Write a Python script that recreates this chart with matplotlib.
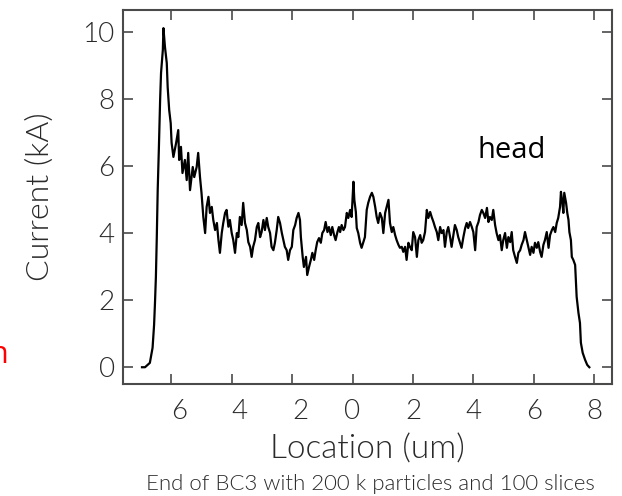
import numpy as np
import matplotlib
matplotlib.use("Agg")
import matplotlib.pyplot as plt
from matplotlib.transforms import ScaledTranslation

# current profile along the bunch (um, kA)
location = [
    -6.97, -6.87, -6.71, -6.62, -6.57, -6.54, -6.51, -6.48, -6.45, -6.41, -6.37,
    -6.34, -6.28, -6.26, -6.21, -6.15, -6.12, -6.07, -6.02, -5.99, -5.93, -5.84,
    -5.77, -5.74, -5.68, -5.63, -5.55, -5.49, -5.44, -5.38, -5.29, -5.24, -5.16,
    -5.11, -5.05, -5.00, -4.94, -4.88, -4.83, -4.77, -4.72, -4.66, -4.61, -4.55,
    -4.49, -4.44, -4.39, -4.33, -4.28, -4.22, -4.17, -4.11, -4.06, -4.00, -3.95,
    -3.89, -3.83, -3.78, -3.73, -3.67, -3.62, -3.56, -3.50, -3.45, -3.39, -3.34,
    -3.29, -3.23, -3.17, -3.12, -3.06, -3.01, -2.95, -2.90, -2.84, -2.79, -2.73,
    -2.68, -2.62, -2.57, -2.51, -2.46, -2.40, -2.34, -2.29, -2.24, -2.18, -2.13,
    -2.07, -2.01, -1.96, -1.90, -1.85, -1.79, -1.74, -1.71, -1.65, -1.61, -1.54,
    -1.50, -1.44, -1.38, -1.33, -1.27, -1.22, -1.17, -1.11, -1.05, -1.00, -0.94,
    -0.89, -0.83, -0.78, -0.72, -0.67, -0.61, -0.56, -0.50, -0.45, -0.41, -0.36,
    -0.30, -0.25, -0.19, -0.14, -0.08, -0.03, 0.03, 0.06, 0.11, 0.14, 0.19,
    0.25, 0.30, 0.36, 0.41, 0.47, 0.52, 0.58, 0.64, 0.69, 0.75, 0.80,
    0.85, 0.91, 0.97, 1.02, 1.08, 1.13, 1.19, 1.24, 1.30, 1.35, 1.41,
    1.46, 1.52, 1.57, 1.63, 1.68, 1.74, 1.79, 1.85, 1.90, 1.96, 2.01,
    2.07, 2.13, 2.18, 2.24, 2.29, 2.34, 2.40, 2.46, 2.51, 2.57, 2.62,
    2.68, 2.73, 2.79, 2.84, 2.90, 2.95, 3.01, 3.06, 3.12, 3.17, 3.23,
    3.28, 3.34, 3.39, 3.45, 3.50, 3.56, 3.61, 3.67, 3.73, 3.78, 3.83,
    3.89, 3.95, 4.00, 4.06, 4.11, 4.17, 4.22, 4.28, 4.33, 4.39, 4.45,
    4.50, 4.55, 4.61, 4.66, 4.72, 4.77, 4.83, 4.88, 4.94, 4.99, 5.05,
    5.11, 5.16, 5.22, 5.27, 5.32, 5.38, 5.44, 5.49, 5.55, 5.60, 5.66,
    5.71, 5.77, 5.82, 5.88, 5.93, 5.99, 6.04, 6.10, 6.15, 6.21, 6.26,
    6.32, 6.37, 6.43, 6.49, 6.54, 6.60, 6.65, 6.71, 6.76, 6.81, 6.87,
    6.90, 6.95, 6.98, 7.01, 7.07, 7.11, 7.15, 7.18, 7.23, 7.26, 7.31,
    7.37, 7.39, 7.42, 7.48, 7.53, 7.56, 7.62, 7.70, 7.77, 7.84,
]
current = [
    0.00, 0.00, 0.13, 0.58, 1.26, 1.92, 2.69, 3.89, 5.29, 6.57, 7.97,
    8.77, 9.46, 10.11, 9.55, 9.07, 8.35, 7.67, 7.28, 6.69, 6.27, 6.69,
    7.07, 6.18, 6.57, 5.79, 6.18, 5.58, 6.39, 5.28, 5.97, 5.67, 5.97,
    6.39, 5.67, 5.20, 4.48, 4.00, 4.78, 5.08, 4.60, 4.78, 4.39, 4.09,
    4.30, 3.80, 3.41, 4.00, 4.30, 4.60, 4.69, 4.19, 4.39, 4.00, 3.80,
    3.41, 4.00, 3.88, 4.48, 4.24, 4.90, 4.30, 4.09, 3.73, 3.59, 3.29,
    3.59, 3.79, 4.18, 4.30, 3.88, 4.03, 4.39, 4.09, 4.45, 4.18, 4.00,
    3.59, 3.49, 3.71, 4.09, 4.48, 4.30, 4.00, 3.79, 3.59, 3.49, 3.20,
    3.49, 3.59, 4.09, 4.24, 4.45, 4.60, 4.39, 3.88, 3.29, 2.99, 3.29,
    2.75, 2.99, 3.20, 3.41, 3.20, 3.49, 3.73, 3.85, 3.71, 4.00, 4.09,
    4.33, 4.03, 4.18, 3.94, 4.18, 3.94, 3.79, 4.03, 4.18, 4.03, 4.24,
    4.09, 4.18, 4.60, 4.45, 4.69, 4.48, 5.53, 4.99, 4.63, 4.15, 4.00,
    3.71, 3.56, 3.73, 3.88, 4.69, 4.90, 5.08, 5.20, 5.08, 4.78, 4.48,
    4.30, 4.60, 4.45, 4.00, 4.60, 4.78, 4.99, 4.30, 4.03, 4.18, 3.94,
    3.79, 3.65, 3.56, 3.59, 3.44, 3.59, 3.20, 3.71, 3.59, 3.49, 4.03,
    3.88, 3.29, 3.79, 3.94, 3.71, 3.79, 4.03, 4.69, 4.45, 4.63, 4.48,
    4.33, 4.18, 4.03, 3.79, 4.18, 4.00, 4.09, 3.59, 4.03, 4.18, 3.88,
    3.59, 3.94, 4.24, 4.09, 3.88, 3.71, 3.56, 3.88, 4.15, 4.30, 4.15,
    4.33, 4.18, 4.03, 3.49, 4.18, 4.33, 4.54, 4.69, 4.60, 4.45, 4.75,
    4.33, 4.48, 4.39, 4.69, 4.24, 4.00, 3.79, 3.94, 3.49, 3.79, 4.00,
    3.56, 3.88, 3.73, 4.03, 3.49, 3.29, 3.11, 3.41, 3.49, 3.65, 3.79,
    4.03, 3.79, 3.59, 3.35, 3.59, 3.41, 3.71, 3.56, 3.73, 3.44, 3.29,
    3.65, 3.79, 4.03, 3.56, 3.94, 4.09, 4.18, 4.03, 4.30, 4.45, 4.78,
    5.23, 4.90, 4.60, 5.20, 4.90, 4.60, 4.39, 4.03, 3.79, 3.29, 3.20,
    3.05, 2.69, 2.10, 1.62, 1.32, 0.73, 0.43, 0.22, 0.07, 0.00,
]

x_ticks = [-6, -4, -2, 0, 2, 4, 6, 8]
x_tick_labels = ["6", "4", "2", "0", "2", "4", "6", "8"]
y_ticks = [0, 2, 4, 6, 8, 10]
y_tick_labels = ["0", "2", "4", "6", "8", "10"]

plt.rcParams['font.family'] = ['Lato', 'DejaVu Sans']
plt.rcParams['font.weight'] = 300
axis_grey = '#4a4a4a'
text_grey = '#2a2a2a'

fig = plt.figure(figsize=(6.22, 4.96), dpi=100)
ax = fig.add_axes([0.1977, 0.2258, 0.7862, 0.7540])

ax.plot(location, current, color='black', lw=1.6)

ax.set_xlim(-7.6, 8.59)
ax.set_ylim(-0.5, 10.65)
ax.set_xticks(x_ticks)
ax.set_xticklabels(x_tick_labels)
ax.set_yticks(y_ticks)
ax.set_yticklabels(y_tick_labels)

ax.tick_params(direction='in', length=7, width=1.2, colors=axis_grey,
               labelcolor=text_grey, top=True, right=True, labelsize=20)
ax.tick_params(axis='x', pad=11)
ax.tick_params(axis='y', pad=6)
for s in ax.spines.values():
    s.set_color(axis_grey)
    s.set_linewidth(1.5)

# labels of negative ticks sit right of the tick (minus sign not drawn)
for tick, lab in zip(x_ticks, ax.get_xticklabels()):
    if tick < 0:
        lab.set_transform(lab.get_transform() + ScaledTranslation(0.08, 0, fig.dpi_scale_trans))

ax.set_xlabel("Location (um)", fontsize=24, color=text_grey, fontweight=300, labelpad=7)
ax.set_ylabel("Current (kA)", fontsize=23, color=text_grey, fontweight=300, labelpad=20)

fig.text(0.595, 0.004, "End of BC3 with 200 k particles and 100 slices",
         ha='center', va='bottom', fontsize=16, color=text_grey)

ax.text(4.15, 6.25, "head", fontsize=21, color='black',
        family=['Open Sans', 'DejaVu Sans'], fontweight='normal')
fig.text(-0.017, 0.268, "h", fontsize=22, color='red',
         family=['Open Sans', 'DejaVu Sans'], fontweight='normal')

fig.savefig("out.png", dpi=100)
